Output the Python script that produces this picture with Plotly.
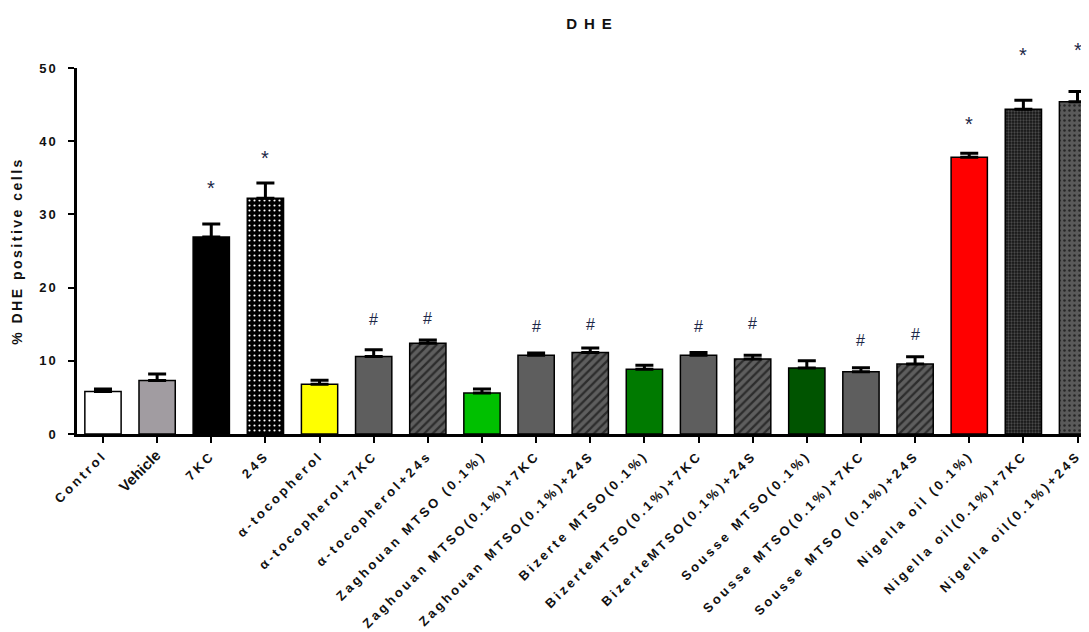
import plotly.graph_objects as go

categories = ["Control", "Vehicle", "7KC", "24S", "α-tocopherol", "α-tocopherol+7KC",
              "α-tocopherol+24s", "Zaghouan MTSO (0.1%)", "Zaghouan MTSO(0.1%)+7KC",
              "Zaghouan MTSO(0.1%)+24S", "Bizerte MTSO(0.1%)", "BizerteMTSO(0.1%)+7KC",
              "BizerteMTSO(0.1%)+24S", "Sousse MTSO(0.1%)", "Sousse MTSO(0.1%)+7KC",
              "Sousse MTSO (0.1%)+24S", "Nigella oil (0.1%)", "Nigella oil(0.1%)+7KC",
              "Nigella oil(0.1%)+24S"]
means = [5.8, 7.3, 26.9, 32.2, 6.8, 10.6, 12.4, 5.6, 10.75, 11.15, 8.85, 10.75,
         10.25, 9.0, 8.5, 9.55, 37.8, 44.35, 45.4]
sem = [0.35, 0.9, 1.8, 2.1, 0.55, 0.9, 0.45, 0.55, 0.3, 0.6, 0.55, 0.4,
       0.5, 1.0, 0.55, 1.0, 0.55, 1.25, 1.4]
sig_marks = ["", "", "*", "*", "", "#", "#", "", "#", "#", "", "#", "#", "", "#", "#", "*", "*", "*"]
sig_heights = [0, 0, 33.5, 37.5, 0, 15.85, 16.0, 0, 14.9, 15.2, 0, 15.0, 15.4, 0, 13.1, 13.8,
               42.2, 51.7, 52.3]
y_ticks = [0, 10, 20, 30, 40, 50]

GRAY = "#5e5e5e"
bar_colors = ["#ffffff", "#a19ca1", "#000000", "#000000", "#ffff00", GRAY, GRAY,
              "#00c000", GRAY, GRAY, "#007a00", GRAY, GRAY, "#005400", GRAY, GRAY,
              "#ff0000", "#141414", "#5a5a5a"]
pat_shape = ["", "", "", ".", "", "", "/", "", "", "/", "", "", "/", "", "", "/", "", ".", "."]
pat_fg = ["", "", "", "#ffffff", "", "", "#2c2c2c", "", "", "#2c2c2c",
          "", "", "#2c2c2c", "", "", "#2c2c2c", "", "#4a4a4a", "#262626"]
pat_size = [0, 0, 0, 5, 0, 0, 6, 0, 0, 6, 0, 0, 6, 0, 0, 6, 0, 3, 5]
pat_sol = [0, 0, 0, 0.15, 0, 0, 0.38, 0, 0, 0.38, 0, 0, 0.38, 0, 0, 0.38, 0, 0.45, 0.2]

PX_PER_UNIT = (632 - 60 - 206) / 50.0

tick_text = []
for c in categories:
    if c == "Vehicle":
        tick_text.append('<b><span style="font-size:15px">Vehicle</span></b>')
    else:
        tick_text.append(f'<b><span style="letter-spacing:3px">{c}</span></b>')

fig = go.Figure()

# group bars sharing the same fill style into one trace each
groups = {}
for i in range(len(categories)):
    key = "solid" if not pat_shape[i] else (pat_shape[i], bar_colors[i], pat_fg[i],
                                            pat_size[i], pat_sol[i])
    groups.setdefault(key, []).append(i)

for key, idx in groups.items():
    if key == "solid":
        marker = dict(color=[bar_colors[i] for i in idx], line=dict(color="black", width=1.5))
    else:
        shape, bg, fg, size, sol = key
        marker = dict(color=bg, line=dict(color="black", width=1.5),
                      pattern=dict(shape=shape, bgcolor=bg, fgcolor=fg, size=size,
                                   solidity=sol, fillmode="replace", fgopacity=1))
    fig.add_trace(go.Bar(
        x=[categories[i] for i in idx], y=[means[i] for i in idx],
        marker=marker,
        error_y=dict(type="data", array=[sem[i] for i in idx], arrayminus=[0] * len(idx),
                     symmetric=False, color="black", thickness=3, width=9),
        width=0.67, hoverinfo="skip",
    ))

# significance marks: anchored on the error-bar top, shifted up to the read glyph height
annotations = []
for c, m, h, v, e in zip(categories, sig_marks, sig_heights, means, sem):
    if m:
        corr = 1 if m == "*" else -2
        annotations.append(dict(
            x=c, y=v + e, xref="x", yref="y", text=m, showarrow=False,
            yanchor="middle", yshift=(h - v - e) * PX_PER_UNIT + corr,
            font=dict(size=20 if m == "*" else 16, color="#1c2747", family="Liberation Sans")))

fig.update_layout(
    width=1089, height=632,
    margin=dict(l=69, r=0, t=60, b=206, autoexpand=False),
    paper_bgcolor="white", plot_bgcolor="white",
    showlegend=False, barmode="overlay",
    font=dict(family="Liberation Sans", color="#111111"),
    title=dict(text='<b><span style="letter-spacing:7px">DHE</span></b>', x=(581 + 3.5) / 1089,
               xanchor="center", xref="container", yref="container",
               y=1 - 16 / 632, yanchor="middle", font=dict(size=15, color="#111111")),
    annotations=annotations,
)
fig.update_xaxes(
    type="category", categoryorder="array", categoryarray=categories,
    range=[-0.48, 18.36],
    tickmode="array", tickvals=categories, ticktext=tick_text,
    tickangle=-45, tickfont=dict(size=13, family="Liberation Sans", color="#111111"),
    showline=True, linecolor="black", linewidth=2.5,
    ticks="outside", ticklen=6, tickwidth=2, tickcolor="black",
    showgrid=False, zeroline=False, automargin=False,
)
fig.update_yaxes(
    range=[0, 50],
    tickmode="array", tickvals=y_ticks,
    ticktext=[f'<b><span style="letter-spacing:2px">{v}</span></b>' for v in y_ticks],
    tickfont=dict(size=13, family="Liberation Sans", color="#111111"),
    ticklabelstandoff=8,
    showline=True, linecolor="black", linewidth=2.5,
    ticks="outside", ticklen=6, tickwidth=2, tickcolor="black",
    showgrid=False, zeroline=False, automargin=False,
    title=dict(text='<b><span style="letter-spacing:2.5px">% DHE positive cells</span></b>',
               font=dict(size=14, color="#111111"), standoff=14),
)
fig.write_html("out.html")
